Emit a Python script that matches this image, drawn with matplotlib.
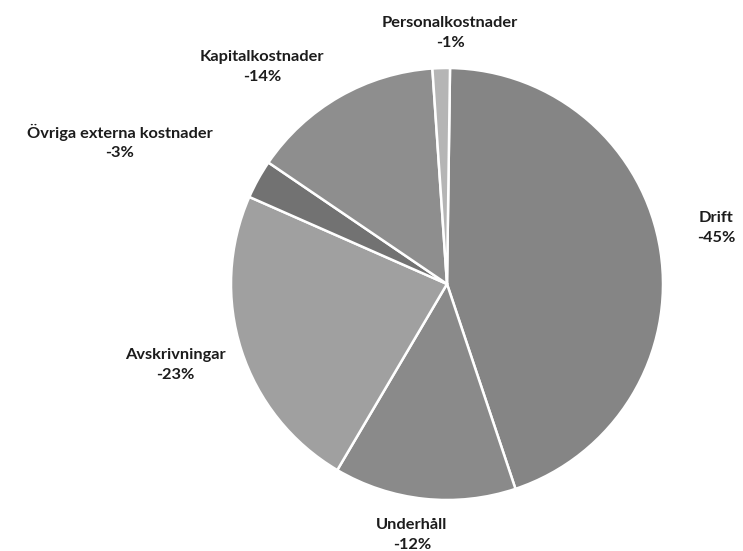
import matplotlib.pyplot as plt

# kostnadsfördelning (andel av pajen)
categories = ['Drift', 'Underhåll', 'Avskrivningar', 'Övriga externa kostnader',
              'Kapitalkostnader', 'Personalkostnader']
shares = [44.6, 13.6, 23.1, 2.9, 14.4, 1.3]
pct_labels = ['-45%', '-12%', '-23%', '-3%', '-14%', '-1%']
colors = ['#858585', '#8a8a8a', '#a0a0a0', '#727272', '#8e8e8e', '#b5b5b5']

# etikettplacering (data-enheter, pajradie = 1)
label_xy = [(1.245, 0.259), (-0.162, -1.162), (-1.259, -0.375),
            (-1.514, 0.657), (-0.856, 1.005), (0.014, 1.162)]

fig = plt.figure(figsize=(7.43, 5.51), dpi=100)
ax = fig.add_axes([0, 0, 1, 1])

ax.pie(shares, colors=colors, startangle=89.2, counterclock=False,
       radius=1.0, wedgeprops=dict(edgecolor='white', linewidth=1.8))

for name, pct, (x, y) in zip(categories, pct_labels, label_xy):
    ax.text(x, y, name + '\n' + pct, ha='center', va='center',
            fontsize=11.8, fontweight='bold', family='Lato',
            color='#1c1c1c', linespacing=1.5)

ax.set_xlim(-447 / 216, (743 - 447) / 216)
ax.set_ylim(-(551 - 284) / 216, 284 / 216)
ax.set_aspect('equal')
ax.axis('off')

fig.savefig('out.png', dpi=100, facecolor='white')
